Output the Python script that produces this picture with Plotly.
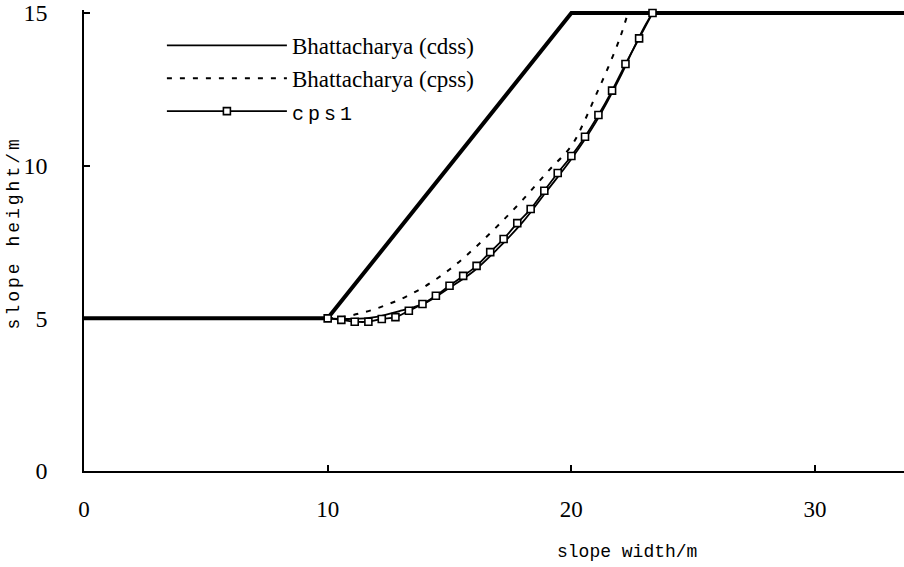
import plotly.graph_objects as go

# slope profile
slope_x = [0, 10, 20, 34]
slope_y = [5, 5, 15, 15]

# Bhattacharya (cdss)
cdss_x = [10, 11, 12, 13, 14, 15, 16, 17, 18, 19, 20, 21, 22, 22.5, 23, 23.33]
cdss_y = [5.0, 4.98, 5.05, 5.25, 5.5, 6.0, 6.55, 7.3, 8.15, 9.18, 10.22, 11.42, 12.9, 13.75, 14.55, 15.0]

# Bhattacharya (cpss)
cpss_x = [10, 10.5, 11, 11.5, 12, 12.5, 13, 13.5, 14, 15, 16, 17, 18, 19, 20, 20.5, 21, 21.5, 22, 22.32]
cpss_y = [5.0, 5.03, 5.1, 5.2, 5.32, 5.47, 5.63, 5.83, 6.05, 6.6, 7.28, 8.05, 8.88, 9.78, 10.65, 11.4, 12.3, 13.2, 14.2, 15.0]

# cps1
cps1_x = [10.0, 10.56, 11.11, 11.67, 12.22, 12.78, 13.33, 13.89, 14.44, 15.0, 15.56, 16.11, 16.67,
          17.22, 17.78, 18.33, 18.89, 19.44, 20.0, 20.56, 21.11, 21.67, 22.22, 22.78, 23.33]
cps1_y = [5.0, 4.95, 4.89, 4.89, 4.98, 5.04, 5.25, 5.47, 5.74, 6.07, 6.39, 6.72, 7.17,
          7.60, 8.12, 8.58, 9.18, 9.76, 10.32, 10.95, 11.66, 12.46, 13.33, 14.17, 15.0]

x_ticks = [0, 10, 20, 30]
y_ticks = [0, 5, 10, 15]

serif = "Times New Roman, Liberation Serif, serif"
mono = "Liberation Mono"

fig = go.Figure()
fig.add_trace(go.Scatter(x=slope_x, y=slope_y, mode="lines", showlegend=False,
                         line=dict(color="black", width=4)))
fig.add_trace(go.Scatter(x=cdss_x, y=cdss_y, mode="lines", name="Bhattacharya (cdss)",
                         legendgroup="a", line=dict(color="black", width=1.8, shape="spline")))
fig.add_trace(go.Scatter(x=cpss_x, y=cpss_y, mode="lines", name="Bhattacharya (cpss)",
                         legendgroup="b", line=dict(color="black", width=2, dash="5px,8px", shape="spline")))
fig.add_trace(go.Scatter(x=cps1_x, y=cps1_y, mode="lines+markers",
                         name='<span style="font-family:Liberation Mono;font-size:20px;letter-spacing:4px">cps1</span>',
                         legendgroup="c", cliponaxis=False,
                         line=dict(color="black", width=1.8, shape="spline"),
                         marker=dict(symbol="square", size=7, color="white",
                                     line=dict(color="black", width=1.6))))

fig.update_layout(
    width=904, height=567,
    margin=dict(l=84, r=0, t=10, b=96),
    paper_bgcolor="white", plot_bgcolor="white",
    showlegend=True,
    legend=dict(x=0.095, y=0.97, xanchor="left", yanchor="top",
                font=dict(family=serif, size=23, color="black"),
                itemwidth=120, tracegroupgap=0, traceorder="grouped",
                bgcolor="rgba(0,0,0,0)"),
    xaxis=dict(range=[0, 33.65], tickvals=x_ticks, showline=True, linecolor="black", linewidth=1.5,
               ticks="inside", ticklen=6, tickwidth=1.5, tickcolor="black",
               showgrid=False, zeroline=False, ticklabelstandoff=17,
               tickfont=dict(family=serif, size=23, color="black")),
    yaxis=dict(range=[0, 15.1], tickvals=y_ticks, showline=True, linecolor="black", linewidth=1.5,
               ticks="inside", ticklen=6, tickwidth=1.5, tickcolor="black",
               showgrid=False, zeroline=False, ticklabelstandoff=30,
               tickfont=dict(family=serif, size=24, color="black")),
    annotations=[
        dict(text='<span style="letter-spacing:3px">slope height/m</span>', xref="paper", yref="paper",
             x=-0.085, y=0.516, showarrow=False, textangle=-90,
             font=dict(family=mono, size=18, color="black"), xanchor="center", yanchor="middle"),
        dict(text="slope width/m", xref="paper", yref="paper",
             x=(627 - 84) / 820, y=-(552 - 471) / 461, showarrow=False,
             font=dict(family=mono, size=18, color="black"), xanchor="center", yanchor="middle"),
    ],
)

fig.write_html("out.html")
